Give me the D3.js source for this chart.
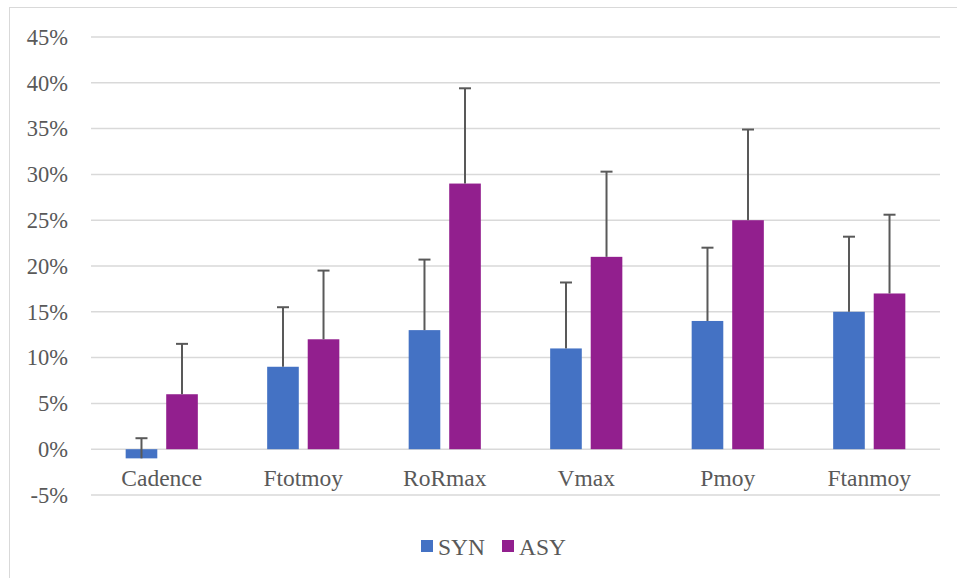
<!DOCTYPE html>
<html>
<head>
<meta charset="utf-8">
<script src="https://cdn.jsdelivr.net/npm/d3@7"></script>
<style>
  body { margin: 0; background: #fff; }
  svg text { font-family: "Liberation Serif", "Times New Roman", serif; fill: #595959; }
</style>
</head>
<body>
<div id="chart"></div>
<script>
const categories = ["Cadence", "Ftotmoy", "RoRmax", "Vmax", "Pmoy", "Ftanmoy"];
const seriesNames = ["SYN", "ASY"];
const synValues = [-1, 9, 13, 11, 14, 15];
const asyValues = [6, 12, 29, 21, 25, 17];
const synErrors = [2.2, 6.5, 7.7, 7.2, 8, 8.2];
const asyErrors = [5.5, 7.5, 10.4, 9.3, 9.9, 8.6];
const yTicks = [-5, 0, 5, 10, 15, 20, 25, 30, 35, 40, 45];
const colors = ["#4472c4", "#921f8e"];

const width = 957, height = 578;
const margin = { left: 91, right: 17, top: 37, bottom: 83 };

const svg = d3.select("#chart").append("svg")
  .attr("width", width)
  .attr("height", height);

// chart frame
svg.append("rect")
  .attr("x", 9.5).attr("y", 7.5)
  .attr("width", 960).attr("height", 600)
  .attr("fill", "none").attr("stroke", "#d9d9d9");

const y = d3.scaleLinear().domain([-5, 45]).range([495, 37]);
const x = d3.scaleBand().domain(categories)
  .range([margin.left, width - margin.right])
  .paddingInner(0.49).paddingOuter(0.245);
const xs = d3.scaleBand().domain(seriesNames)
  .range([0, x.bandwidth()]).paddingInner(0.22);

// gridlines
svg.append("g").selectAll("line")
  .data(yTicks)
  .enter().append("line")
  .attr("x1", margin.left).attr("x2", width - margin.right)
  .attr("y1", d => y(d)).attr("y2", d => y(d))
  .attr("stroke", "#d9d9d9").attr("stroke-width", 1.5);

// y labels
svg.append("g").selectAll("text")
  .data(yTicks)
  .enter().append("text")
  .attr("x", 68).attr("y", d => y(d))
  .attr("dy", "0.35em")
  .attr("text-anchor", "end")
  .style("font-size", "22.5px")
  .text(d => d + "%");

const rows = categories.map((c, i) => ({
  cat: c,
  vals: [
    { s: "SYN", v: synValues[i], e: synErrors[i] },
    { s: "ASY", v: asyValues[i], e: asyErrors[i] }
  ]
}));

const groups = svg.append("g").selectAll("g")
  .data(rows)
  .enter().append("g")
  .attr("transform", d => "translate(" + x(d.cat) + ",0)");

const bars = groups.selectAll("g")
  .data(d => d.vals)
  .enter().append("g");

bars.append("rect")
  .attr("x", d => xs(d.s))
  .attr("width", xs.bandwidth())
  .attr("y", d => y(Math.max(0, d.v)))
  .attr("height", d => Math.abs(y(d.v) - y(0)))
  .attr("fill", (d, i) => colors[i]);

// error bars
bars.append("line")
  .attr("x1", d => xs(d.s) + xs.bandwidth() / 2)
  .attr("x2", d => xs(d.s) + xs.bandwidth() / 2)
  .attr("y1", d => y(d.v))
  .attr("y2", d => y(d.v + d.e))
  .attr("stroke", "#595959").attr("stroke-width", 2);

bars.append("line")
  .attr("x1", d => xs(d.s) + xs.bandwidth() / 2 - 6)
  .attr("x2", d => xs(d.s) + xs.bandwidth() / 2 + 6)
  .attr("y1", d => y(d.v + d.e))
  .attr("y2", d => y(d.v + d.e))
  .attr("stroke", "#595959").attr("stroke-width", 2);

// category labels
svg.append("g").selectAll("text")
  .data(categories)
  .enter().append("text")
  .attr("x", d => x(d) + x.bandwidth() / 2)
  .attr("y", 486)
  .attr("text-anchor", "middle")
  .style("font-size", "23.5px")
  .text(d => d);

// legend
const legend = svg.append("g").selectAll("g")
  .data(seriesNames)
  .enter().append("g")
  .attr("transform", (d, i) => "translate(" + (421 + i * 81) + ",540)");

legend.append("rect")
  .attr("width", 12).attr("height", 12)
  .attr("fill", (d, i) => colors[i]);

legend.append("text")
  .attr("x", 17).attr("y", 14.5)
  .style("font-size", "23.5px")
  .text(d => d);
</script>
</body>
</html>
